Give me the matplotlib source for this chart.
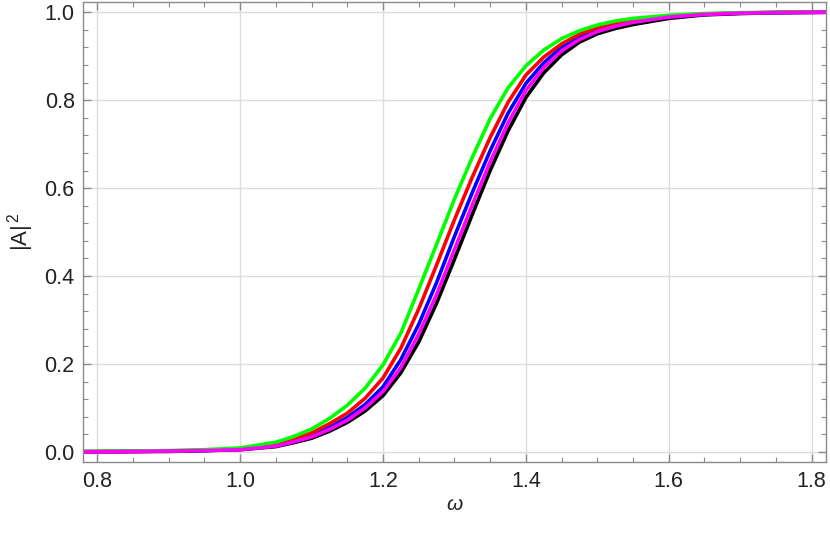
import matplotlib
matplotlib.use("Agg")
from matplotlib import pyplot as plt
from matplotlib.ticker import MultipleLocator, FormatStrFormatter

plt.rcParams['font.family'] = ['Liberation Sans', 'DejaVu Sans']
plt.rcParams['mathtext.fontset'] = 'custom'
plt.rcParams['mathtext.rm'] = 'Liberation Sans'
plt.rcParams['mathtext.it'] = 'Liberation Sans:italic'

# values
omega = [0.78, 0.85, 0.90, 0.95, 1.00, 1.05, 1.075, 1.10, 1.125, 1.15, 1.175, 1.20, 1.225,
         1.25, 1.275, 1.30, 1.325, 1.35, 1.375, 1.40, 1.425, 1.45, 1.475, 1.50, 1.525,
         1.55, 1.60, 1.65, 1.70, 1.75, 1.82]

green = [0.001, 0.002, 0.003, 0.005, 0.009, 0.022, 0.035, 0.052, 0.076, 0.106, 0.145, 0.198, 0.270,
         0.370, 0.472, 0.575, 0.670, 0.758, 0.828, 0.878, 0.914, 0.940, 0.958, 0.971, 0.980,
         0.986, 0.993, 0.997, 0.999, 1.000, 1.000]
red = [0.001, 0.001, 0.002, 0.004, 0.007, 0.018, 0.029, 0.043, 0.064, 0.088, 0.122, 0.168, 0.236,
       0.325, 0.425, 0.528, 0.625, 0.715, 0.795, 0.857, 0.898, 0.928, 0.950, 0.965, 0.975,
       0.983, 0.991, 0.996, 0.998, 1.000, 1.000]
blue = [0.0005, 0.001, 0.002, 0.003, 0.006, 0.015, 0.025, 0.037, 0.056, 0.078, 0.108, 0.148, 0.210,
        0.290, 0.385, 0.490, 0.590, 0.685, 0.770, 0.838, 0.885, 0.920, 0.944, 0.960, 0.971,
        0.980, 0.990, 0.995, 0.998, 0.999, 1.000]
magenta = [0.000, 0.001, 0.002, 0.003, 0.005, 0.013, 0.023, 0.034, 0.051, 0.072, 0.100, 0.137, 0.192,
           0.268, 0.358, 0.460, 0.562, 0.660, 0.748, 0.822, 0.874, 0.912, 0.938, 0.956, 0.968,
           0.977, 0.989, 0.995, 0.998, 0.999, 1.000]
black = [0.000, 0.001, 0.001, 0.003, 0.005, 0.012, 0.021, 0.031, 0.047, 0.067, 0.093, 0.128, 0.180,
         0.250, 0.338, 0.438, 0.540, 0.640, 0.730, 0.806, 0.862, 0.903, 0.932, 0.951, 0.963,
         0.972, 0.986, 0.994, 0.997, 0.999, 1.000]

fig = plt.figure(figsize=(8.3, 5.33), dpi=100)
ax = fig.add_axes([0.1, 0.134, 0.895, 0.862])

for ys, c in [(black, 'black'), (blue, '#0000ff'), (red, '#ff0000'),
              (green, '#00ff00'), (magenta, '#ff00ff')]:
    ax.plot(omega, ys, color=c, lw=2.6, solid_joinstyle='round', solid_capstyle='butt')

ax.set_xlim(0.78, 1.82)
ax.set_ylim(-0.022, 1.023)
ax.xaxis.set_major_locator(MultipleLocator(0.2))
ax.xaxis.set_minor_locator(MultipleLocator(0.05))
ax.yaxis.set_major_locator(MultipleLocator(0.2))
ax.yaxis.set_minor_locator(MultipleLocator(0.04))
ax.xaxis.set_major_formatter(FormatStrFormatter('%.1f'))
ax.yaxis.set_major_formatter(FormatStrFormatter('%.1f'))

ax.grid(True, which='major', color='#dcdcdc', lw=1.0)
ax.set_axisbelow(True)
for s in ax.spines.values():
    s.set_color('#8a8a8a')
    s.set_linewidth(1.0)
ax.tick_params(which='both', direction='in', top=True, right=True, color='#8a8a8a',
               labelsize=15.5, labelcolor='#222222')
ax.tick_params(which='major', length=6, width=1.0)
ax.tick_params(which='minor', length=3.5, width=0.8)
ax.tick_params(axis='x', pad=7)
ax.tick_params(axis='y', pad=6)

ax.set_xlabel(r'$\omega$', fontsize=15, labelpad=2, color='#222222')
ax.set_ylabel(r'$|\mathrm{A}|^{\,2}$', fontsize=16, labelpad=6, color='#222222')

plt.savefig("out.png", dpi=100)
